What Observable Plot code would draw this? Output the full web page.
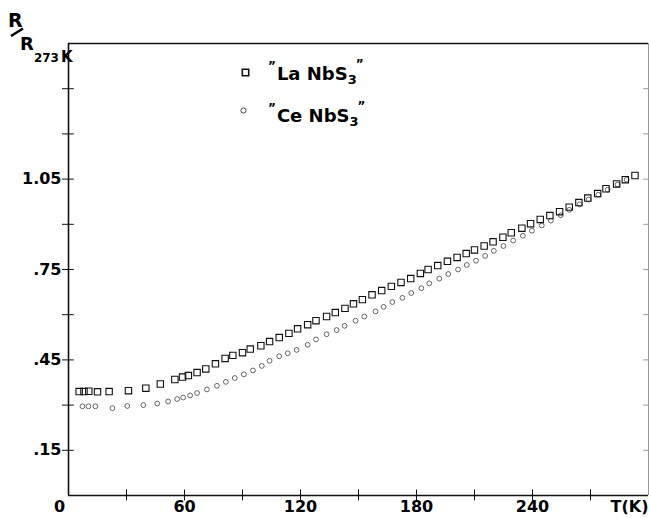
<!DOCTYPE html>
<html>
<head>
<meta charset="utf-8">
<script src="https://cdn.jsdelivr.net/npm/d3@7"></script>
<script src="https://cdn.jsdelivr.net/npm/@observablehq/plot@0.6"></script>
<style>
  html, body { margin: 0; padding: 0; background: #fff; }
  #chart { position: relative; width: 649px; height: 518px; }
</style>
</head>
<body>
<div id="chart"></div>
<script>
// ---- data ----
const seriesNames = ["La NbS", "Ce NbS"];

const T_La = [5.5, 8, 10.5, 15, 21, 31, 40, 47.5, 55, 59, 62, 66.5, 71, 76, 81, 85, 90, 94, 99.5,
  104, 109, 114, 118.5, 123.7, 128, 133.5, 138, 143, 147.4, 152, 157, 162, 167, 172, 177, 182, 186,
  191, 196, 201, 205.7, 210, 215, 219.6, 224.7, 229, 234.5, 239, 244, 249, 254, 259, 264, 268.6,
  273.7, 278, 283.5, 288, 293];
const R_La = [0.345, 0.345, 0.346, 0.344, 0.345, 0.348, 0.356, 0.37, 0.385, 0.393, 0.398, 0.408, 0.42,
  0.437, 0.455, 0.465, 0.474, 0.486, 0.497, 0.511, 0.524, 0.538, 0.553, 0.567, 0.58, 0.594, 0.607,
  0.621, 0.636, 0.65, 0.666, 0.68, 0.694, 0.707, 0.72, 0.737, 0.75, 0.763, 0.777, 0.79, 0.803, 0.815,
  0.828, 0.842, 0.857, 0.872, 0.887, 0.902, 0.916, 0.929, 0.942, 0.957, 0.972, 0.987, 1.002, 1.018,
  1.034, 1.048, 1.062];

const T_Ce = [7.2, 10.3, 13.9, 22.7, 30.4, 38.7, 45.9, 51.5, 56.2, 59.3, 62.9, 66.5, 71.6, 76.8, 81.4,
  86, 90.7, 95.4, 100, 104, 109, 113.4, 118, 123.7, 128, 133.5, 138.7, 142.8, 148.5, 153, 158.8, 163,
  167.5, 172.7, 177.3, 182.5, 186.6, 191.8, 196.4, 201.5, 206, 210.8, 215.5, 220, 225, 230, 235,
  239.7, 244.8, 249.5, 254.6, 259, 264.4, 269, 274, 278.9, 284, 288.7];
const R_Ce = [0.296, 0.296, 0.296, 0.29, 0.297, 0.3, 0.305, 0.312, 0.32, 0.325, 0.332, 0.34, 0.352,
  0.364, 0.377, 0.39, 0.402, 0.415, 0.43, 0.447, 0.462, 0.472, 0.483, 0.5, 0.518, 0.535, 0.549, 0.563,
  0.58, 0.594, 0.611, 0.626, 0.642, 0.656, 0.672, 0.688, 0.704, 0.72, 0.735, 0.75, 0.765, 0.779, 0.795,
  0.812, 0.828, 0.846, 0.862, 0.879, 0.896, 0.912, 0.93, 0.948, 0.966, 0.982, 0.998, 1.015, 1.032, 1.048];

const xTicks = [0, 30, 60, 90, 120, 150, 180, 210, 240, 270];
const xLabels = [0, 60, 120, 180, 240];
const yTicks = [0.15, 0.30, 0.45, 0.60, 0.75, 0.90, 1.05, 1.20, 1.35];
const yLabelValues = [0.15, 0.45, 0.75, 1.05];
const yLabelTexts = [".15", ".45", ".75", "1.05"];

const la = T_La.map((t, i) => ({T: t, R: R_La[i]}));
const ce = T_Ce.map((t, i) => ({T: t, R: R_Ce[i]}));
const yLab = yLabelValues.map((v, i) => ({v, s: yLabelTexts[i]}));

const FONT = "DejaVu Sans";

const plot = Plot.plot({
  width: 649,
  height: 518,
  marginLeft: 68,
  marginRight: 1,
  marginTop: 43,
  marginBottom: 23,
  style: {fontFamily: FONT, background: "#fff", overflow: "visible"},
  x: {domain: [0, 300], axis: null},
  y: {domain: [0, 1.5], axis: null},
  marks: [
    // frame
    Plot.ruleX([300], {stroke: "#999", strokeWidth: 1}),
    Plot.ruleY([1.5], {stroke: "#111", strokeWidth: 1.3}),
    Plot.ruleX([0], {stroke: "#111", strokeWidth: 1.6}),
    Plot.ruleY([0], {stroke: "#111", strokeWidth: 1.6}),
    // crossing ticks
    Plot.ruleY(yTicks, {y: d => d, x1: -3.1, x2: 3.0, stroke: "#111", strokeWidth: 1}),
    Plot.ruleY(yTicks, {y: d => d, x1: 297.5, x2: 300, stroke: "#999", strokeWidth: 1}),
    Plot.ruleX(xTicks.filter(d => d > 0), {x: d => d, y1: -0.018, y2: 0.018, stroke: "#111", strokeWidth: 1}),
    // tick labels
    Plot.text(yLab, {x: 0, y: "v", text: "s", textAnchor: "end", dx: -7, fontSize: 16, fontWeight: "bold", fill: "#000"}),
    Plot.text(xLabels.filter(d => d > 0), {x: d => d, frameAnchor: "bottom", text: d => String(d), dy: 16, fontSize: 16, fontWeight: "bold", fill: "#000"}),
    Plot.text(xLabels.filter(d => d === 0), {x: d => d, frameAnchor: "bottom", text: d => String(d), dx: -9, dy: 16, fontSize: 16, fontWeight: "bold", fill: "#000"}),
    Plot.text(["T(K)"], {frameAnchor: "bottom-right", text: d => d, textAnchor: "end", dy: 16, fontSize: 16, fontWeight: "bold", fill: "#000"}),
    // data
    Plot.dot(ce, {x: "T", y: "R", r: 2.4, stroke: "#555", strokeWidth: 0.9, fill: "none"}),
    Plot.dot(la, {x: "T", y: "R", symbol: "square", r: 3.6, stroke: "#111", strokeWidth: 1.1, fill: "none"}),
    // legend markers
    Plot.dot([seriesNames[0]], {frameAnchor: "top-left", dx: 177, dy: 29, symbol: "square", r: 3.6, stroke: "#111", strokeWidth: 1.6, fill: "none"}),
    Plot.dot([seriesNames[1]], {frameAnchor: "top-left", dx: 175, dy: 67, r: 2.6, stroke: "#444", strokeWidth: 1, fill: "none"})
  ]
});

document.getElementById("chart").appendChild(plot);

// y-axis title and legend text (rich text with subscripts)
const svg = d3.select(plot);
const g = svg.append("g")
  .attr("font-family", FONT).attr("font-weight", "bold").attr("fill", "#000")
  .attr("text-anchor", "start").style("text-anchor", "start");
g.append("text").attr("x", 8).attr("y", 27).attr("font-size", 19).text("R");
g.append("line").attr("x1", 11).attr("y1", 36).attr("x2", 23).attr("y2", 28.5)
  .attr("stroke", "#000").attr("stroke-width", 2.6);
const t2 = g.append("text").attr("x", 20).attr("y", 50).attr("font-size", 18);
t2.append("tspan").text("R");
t2.append("tspan").attr("font-size", 12).attr("dy", 12).text("273");
t2.append("tspan").attr("font-size", 15).attr("dx", 2).text("K");

seriesNames.forEach((name, i) => {
  const y = i === 0 ? 80 : 122;
  const t = g.append("text").attr("x", 268).attr("y", y).attr("font-size", 18);
  t.append("tspan").attr("font-size", 12).attr("dy", -10).text("\u201D");
  t.append("tspan").attr("dy", 10).attr("dx", 1).text(name);
  t.append("tspan").attr("font-size", 13).attr("dy", 4).text("3");
  t.append("tspan").attr("font-size", 12).attr("dy", -16).attr("dx", -1).text("\u201D");
});
</script>
</body>
</html>
